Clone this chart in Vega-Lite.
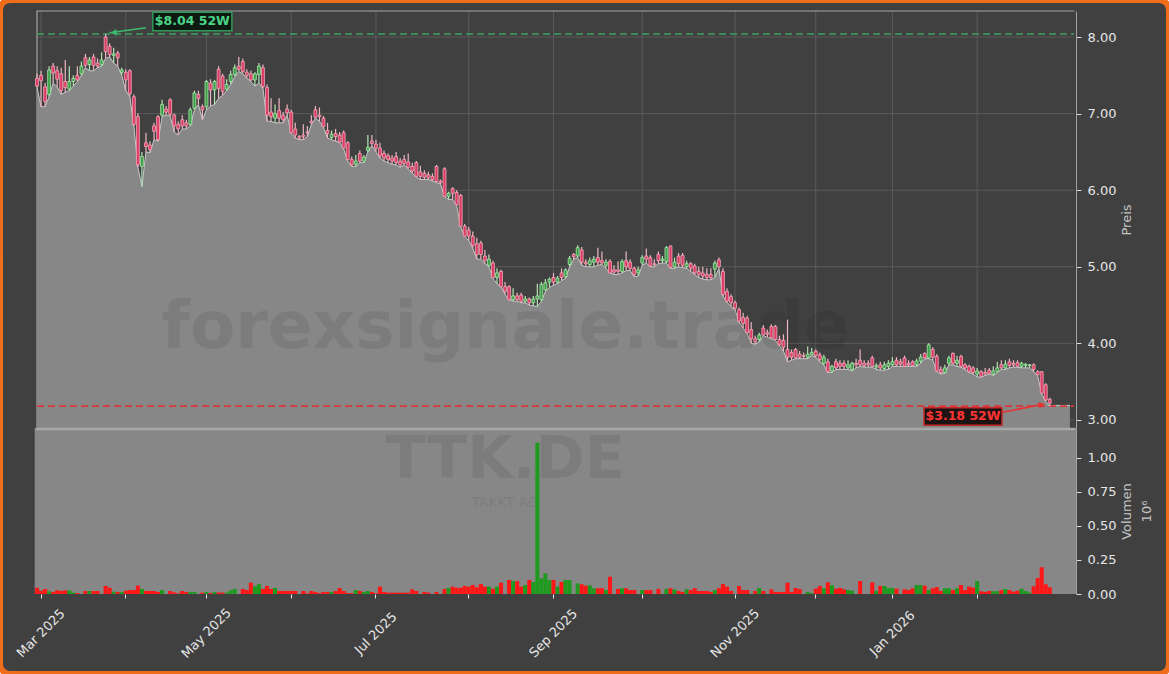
{
"$schema": "https://vega.github.io/schema/vega-lite/v6.json",
"usermeta": {"embedOptions": {"actions": false}},
"width": 1169,
"height": 674,
"autosize": {"type": "none"},
"padding": 0,
"background": "#ffffff",
"view": {"fill": "#404040", "stroke": "#ef6c1a", "strokeWidth": 6, "cornerRadius": 10},
"config": {
  "font": "DejaVu Sans",
  "axis": {"labelFont": "DejaVu Sans", "titleFont": "DejaVu Sans", "labelFontSize": 13, "labelColor": "#e6e6e6", "titleFontSize": 13, "titleColor": "#c4c4c4", "titleFontWeight": "normal", "tickColor": "#dddddd", "domainColor": "#a0a0a0", "grid": false}
},
"datasets": {
"px": [
{"d":"2025-02-28","o":7.46,"h":7.52,"l":7.34,"c":7.36,"v":46000},
{"d":"2025-03-03","o":7.50,"h":7.56,"l":7.09,"c":7.43,"v":24000},
{"d":"2025-03-04","o":7.35,"h":7.40,"l":7.09,"c":7.16,"v":37000},
{"d":"2025-03-05","o":7.25,"h":7.62,"l":7.22,"c":7.57,"v":20000},
{"d":"2025-03-06","o":7.62,"h":7.66,"l":7.40,"c":7.53,"v":15000},
{"d":"2025-03-07","o":7.56,"h":7.62,"l":7.35,"c":7.45,"v":27000},
{"d":"2025-03-10","o":7.52,"h":7.60,"l":7.25,"c":7.30,"v":22000},
{"d":"2025-03-11","o":7.42,"h":7.70,"l":7.28,"c":7.34,"v":27000},
{"d":"2025-03-12","o":7.32,"h":7.62,"l":7.30,"c":7.42,"v":27000},
{"d":"2025-03-13","o":7.42,"h":7.50,"l":7.36,"c":7.46,"v":10000},
{"d":"2025-03-14","o":7.50,"h":7.62,"l":7.42,"c":7.44,"v":7000},
{"d":"2025-03-17","o":7.52,"h":7.68,"l":7.50,"c":7.62,"v":0},
{"d":"2025-03-18","o":7.73,"h":7.78,"l":7.60,"c":7.63,"v":22000},
{"d":"2025-03-19","o":7.64,"h":7.74,"l":7.56,"c":7.70,"v":22000},
{"d":"2025-03-20","o":7.74,"h":7.78,"l":7.56,"c":7.63,"v":22000},
{"d":"2025-03-21","o":7.66,"h":7.72,"l":7.60,"c":7.62,"v":22000},
{"d":"2025-03-24","o":7.64,"h":7.80,"l":7.62,"c":7.70,"v":0},
{"d":"2025-03-25","o":8.00,"h":8.04,"l":7.72,"c":7.81,"v":59000},
{"d":"2025-03-26","o":7.88,"h":7.92,"l":7.74,"c":7.77,"v":46000},
{"d":"2025-03-27","o":7.76,"h":7.86,"l":7.66,"c":7.78,"v":17000},
{"d":"2025-03-28","o":7.79,"h":7.82,"l":7.62,"c":7.73,"v":15000},
{"d":"2025-03-31","o":7.54,"h":7.60,"l":7.50,"c":7.57,"v":15000},
{"d":"2025-04-01","o":7.54,"h":7.58,"l":7.30,"c":7.44,"v":24000},
{"d":"2025-04-02","o":7.56,"h":7.58,"l":7.22,"c":7.26,"v":29000},
{"d":"2025-04-03","o":7.22,"h":7.25,"l":6.84,"c":6.86,"v":29000},
{"d":"2025-04-04","o":6.96,"h":7.00,"l":6.30,"c":6.33,"v":61000},
{"d":"2025-04-07","o":6.31,"h":6.50,"l":6.05,"c":6.44,"v":37000},
{"d":"2025-04-08","o":6.62,"h":6.75,"l":6.50,"c":6.57,"v":22000},
{"d":"2025-04-09","o":6.59,"h":6.64,"l":6.49,"c":6.53,"v":22000},
{"d":"2025-04-10","o":6.84,"h":6.88,"l":6.66,"c":6.77,"v":22000},
{"d":"2025-04-11","o":6.96,"h":6.98,"l":6.64,"c":6.66,"v":15000},
{"d":"2025-04-14","o":6.98,"h":7.18,"l":6.96,"c":7.12,"v":29000},
{"d":"2025-04-15","o":7.06,"h":7.10,"l":6.98,"c":7.02,"v":0},
{"d":"2025-04-16","o":7.18,"h":7.20,"l":6.97,"c":6.99,"v":22000},
{"d":"2025-04-17","o":6.98,"h":7.00,"l":6.76,"c":6.84,"v":12000},
{"d":"2025-04-22","o":6.86,"h":6.90,"l":6.72,"c":6.80,"v":5000},
{"d":"2025-04-23","o":6.92,"h":6.98,"l":6.80,"c":6.84,"v":22000},
{"d":"2025-04-24","o":6.88,"h":6.92,"l":6.80,"c":6.84,"v":15000},
{"d":"2025-04-25","o":6.86,"h":7.08,"l":6.84,"c":7.05,"v":15000},
{"d":"2025-04-28","o":7.07,"h":7.30,"l":7.05,"c":7.27,"v":15000},
{"d":"2025-04-29","o":7.25,"h":7.30,"l":7.12,"c":7.20,"v":0},
{"d":"2025-04-30","o":7.09,"h":7.12,"l":6.92,"c":7.05,"v":10000},
{"d":"2025-05-02","o":7.09,"h":7.44,"l":7.05,"c":7.42,"v":15000},
{"d":"2025-05-05","o":7.40,"h":7.45,"l":7.10,"c":7.31,"v":7000},
{"d":"2025-05-06","o":7.31,"h":7.44,"l":7.12,"c":7.42,"v":15000},
{"d":"2025-05-07","o":7.58,"h":7.62,"l":7.20,"c":7.33,"v":12000},
{"d":"2025-05-08","o":7.49,"h":7.52,"l":7.24,"c":7.29,"v":10000},
{"d":"2025-05-09","o":7.32,"h":7.45,"l":7.30,"c":7.38,"v":10000},
{"d":"2025-05-12","o":7.42,"h":7.56,"l":7.38,"c":7.51,"v":27000},
{"d":"2025-05-13","o":7.51,"h":7.64,"l":7.48,"c":7.60,"v":37000},
{"d":"2025-05-14","o":7.62,"h":7.74,"l":7.55,"c":7.58,"v":0},
{"d":"2025-05-15","o":7.68,"h":7.72,"l":7.52,"c":7.55,"v":37000},
{"d":"2025-05-16","o":7.54,"h":7.58,"l":7.46,"c":7.50,"v":29000},
{"d":"2025-05-19","o":7.52,"h":7.56,"l":7.42,"c":7.44,"v":83000},
{"d":"2025-05-20","o":7.44,"h":7.54,"l":7.36,"c":7.52,"v":56000},
{"d":"2025-05-21","o":7.51,"h":7.66,"l":7.40,"c":7.62,"v":73000},
{"d":"2025-05-22","o":7.60,"h":7.64,"l":7.33,"c":7.35,"v":37000},
{"d":"2025-05-23","o":7.34,"h":7.38,"l":6.90,"c":6.98,"v":59000},
{"d":"2025-05-26","o":7.02,"h":7.20,"l":6.90,"c":6.96,"v":37000},
{"d":"2025-05-27","o":6.94,"h":7.12,"l":6.88,"c":7.00,"v":44000},
{"d":"2025-05-28","o":7.04,"h":7.20,"l":6.88,"c":6.94,"v":22000},
{"d":"2025-05-29","o":6.98,"h":7.02,"l":6.88,"c":6.92,"v":22000},
{"d":"2025-05-30","o":7.06,"h":7.12,"l":6.98,"c":7.01,"v":22000},
{"d":"2025-06-02","o":7.02,"h":7.05,"l":6.74,"c":6.75,"v":22000},
{"d":"2025-06-03","o":6.80,"h":6.88,"l":6.68,"c":6.72,"v":22000},
{"d":"2025-06-04","o":6.70,"h":6.72,"l":6.66,"c":6.68,"v":0},
{"d":"2025-06-05","o":6.72,"h":6.86,"l":6.66,"c":6.70,"v":22000},
{"d":"2025-06-06","o":6.76,"h":6.84,"l":6.70,"c":6.75,"v":5000},
{"d":"2025-06-09","o":6.90,"h":6.98,"l":6.86,"c":6.88,"v":22000},
{"d":"2025-06-10","o":7.05,"h":7.10,"l":6.94,"c":6.95,"v":15000},
{"d":"2025-06-11","o":6.98,"h":7.08,"l":6.90,"c":6.96,"v":7000},
{"d":"2025-06-12","o":6.94,"h":6.97,"l":6.82,"c":6.83,"v":15000},
{"d":"2025-06-13","o":6.78,"h":6.88,"l":6.68,"c":6.74,"v":15000},
{"d":"2025-06-16","o":6.69,"h":6.78,"l":6.66,"c":6.73,"v":15000},
{"d":"2025-06-17","o":6.74,"h":6.80,"l":6.64,"c":6.70,"v":22000},
{"d":"2025-06-18","o":6.72,"h":6.76,"l":6.62,"c":6.63,"v":44000},
{"d":"2025-06-19","o":6.75,"h":6.78,"l":6.54,"c":6.55,"v":22000},
{"d":"2025-06-20","o":6.62,"h":6.64,"l":6.38,"c":6.40,"v":7000},
{"d":"2025-06-23","o":6.40,"h":6.44,"l":6.31,"c":6.33,"v":7000},
{"d":"2025-06-24","o":6.34,"h":6.46,"l":6.31,"c":6.38,"v":29000},
{"d":"2025-06-25","o":6.48,"h":6.52,"l":6.36,"c":6.38,"v":22000},
{"d":"2025-06-26","o":6.38,"h":6.46,"l":6.36,"c":6.43,"v":15000},
{"d":"2025-06-27","o":6.52,"h":6.72,"l":6.50,"c":6.56,"v":22000},
{"d":"2025-06-30","o":6.64,"h":6.72,"l":6.58,"c":6.61,"v":15000},
{"d":"2025-07-01","o":6.60,"h":6.66,"l":6.50,"c":6.55,"v":5000},
{"d":"2025-07-02","o":6.55,"h":6.62,"l":6.42,"c":6.45,"v":54000},
{"d":"2025-07-03","o":6.48,"h":6.52,"l":6.38,"c":6.42,"v":15000},
{"d":"2025-07-04","o":6.45,"h":6.48,"l":6.36,"c":6.40,"v":10000},
{"d":"2025-07-07","o":6.42,"h":6.46,"l":6.34,"c":6.38,"v":10000},
{"d":"2025-07-08","o":6.44,"h":6.50,"l":6.33,"c":6.36,"v":10000},
{"d":"2025-07-09","o":6.38,"h":6.42,"l":6.30,"c":6.33,"v":10000},
{"d":"2025-07-10","o":6.40,"h":6.46,"l":6.33,"c":6.35,"v":10000},
{"d":"2025-07-11","o":6.37,"h":6.48,"l":6.28,"c":6.30,"v":10000},
{"d":"2025-07-14","o":6.31,"h":6.36,"l":6.22,"c":6.25,"v":34000},
{"d":"2025-07-15","o":6.36,"h":6.38,"l":6.17,"c":6.18,"v":22000},
{"d":"2025-07-16","o":6.24,"h":6.32,"l":6.14,"c":6.18,"v":0},
{"d":"2025-07-17","o":6.22,"h":6.26,"l":6.14,"c":6.17,"v":15000},
{"d":"2025-07-18","o":6.20,"h":6.24,"l":6.14,"c":6.16,"v":10000},
{"d":"2025-07-21","o":6.18,"h":6.22,"l":6.12,"c":6.14,"v":0},
{"d":"2025-07-22","o":6.31,"h":6.33,"l":6.10,"c":6.11,"v":15000},
{"d":"2025-07-23","o":6.12,"h":6.14,"l":6.08,"c":6.10,"v":0},
{"d":"2025-07-24","o":6.28,"h":6.30,"l":5.92,"c":5.92,"v":37000},
{"d":"2025-07-25","o":5.92,"h":5.98,"l":5.88,"c":5.96,"v":44000},
{"d":"2025-07-28","o":6.02,"h":6.04,"l":5.88,"c":5.96,"v":54000},
{"d":"2025-07-29","o":5.97,"h":6.00,"l":5.80,"c":5.81,"v":46000},
{"d":"2025-07-30","o":5.93,"h":5.95,"l":5.52,"c":5.53,"v":46000},
{"d":"2025-07-31","o":5.53,"h":5.56,"l":5.40,"c":5.40,"v":59000},
{"d":"2025-08-01","o":5.48,"h":5.52,"l":5.34,"c":5.40,"v":54000},
{"d":"2025-08-04","o":5.40,"h":5.46,"l":5.24,"c":5.28,"v":66000},
{"d":"2025-08-05","o":5.30,"h":5.38,"l":5.10,"c":5.16,"v":49000},
{"d":"2025-08-06","o":5.31,"h":5.34,"l":5.10,"c":5.16,"v":73000},
{"d":"2025-08-07","o":5.14,"h":5.22,"l":5.04,"c":5.08,"v":54000},
{"d":"2025-08-08","o":5.02,"h":5.16,"l":5.00,"c":5.10,"v":54000},
{"d":"2025-08-11","o":5.05,"h":5.08,"l":4.85,"c":4.86,"v":39000},
{"d":"2025-08-12","o":4.86,"h":4.98,"l":4.78,"c":4.92,"v":54000},
{"d":"2025-08-13","o":4.94,"h":4.96,"l":4.74,"c":4.74,"v":83000},
{"d":"2025-08-14","o":4.74,"h":4.80,"l":4.64,"c":4.68,"v":0},
{"d":"2025-08-15","o":4.74,"h":4.76,"l":4.57,"c":4.57,"v":103000},
{"d":"2025-08-18","o":4.57,"h":4.72,"l":4.55,"c":4.62,"v":95000},
{"d":"2025-08-19","o":4.62,"h":4.66,"l":4.55,"c":4.57,"v":95000},
{"d":"2025-08-20","o":4.63,"h":4.66,"l":4.53,"c":4.55,"v":54000},
{"d":"2025-08-21","o":4.55,"h":4.62,"l":4.53,"c":4.58,"v":66000},
{"d":"2025-08-22","o":4.58,"h":4.60,"l":4.50,"c":4.53,"v":103000},
{"d":"2025-08-25","o":4.53,"h":4.62,"l":4.49,"c":4.58,"v":88000},
{"d":"2025-08-26","o":4.58,"h":4.78,"l":4.48,"c":4.62,"v":1110000},
{"d":"2025-08-27","o":4.57,"h":4.80,"l":4.55,"c":4.77,"v":115000},
{"d":"2025-08-28","o":4.70,"h":4.84,"l":4.68,"c":4.79,"v":152000},
{"d":"2025-08-29","o":4.80,"h":4.86,"l":4.73,"c":4.84,"v":103000},
{"d":"2025-09-01","o":4.86,"h":4.92,"l":4.76,"c":4.80,"v":103000},
{"d":"2025-09-02","o":4.80,"h":4.88,"l":4.78,"c":4.85,"v":54000},
{"d":"2025-09-03","o":4.92,"h":4.98,"l":4.82,"c":4.86,"v":88000},
{"d":"2025-09-04","o":4.87,"h":4.98,"l":4.85,"c":4.96,"v":103000},
{"d":"2025-09-05","o":5.03,"h":5.14,"l":5.00,"c":5.11,"v":103000},
{"d":"2025-09-08","o":5.16,"h":5.18,"l":5.10,"c":5.13,"v":0},
{"d":"2025-09-09","o":5.14,"h":5.28,"l":5.12,"c":5.25,"v":78000},
{"d":"2025-09-10","o":5.22,"h":5.26,"l":5.02,"c":5.06,"v":71000},
{"d":"2025-09-11","o":5.06,"h":5.10,"l":5.00,"c":5.04,"v":61000},
{"d":"2025-09-12","o":5.03,"h":5.12,"l":5.00,"c":5.08,"v":64000},
{"d":"2025-09-15","o":5.06,"h":5.14,"l":5.00,"c":5.10,"v":42000},
{"d":"2025-09-16","o":5.12,"h":5.25,"l":5.02,"c":5.06,"v":42000},
{"d":"2025-09-17","o":5.08,"h":5.20,"l":5.03,"c":5.05,"v":42000},
{"d":"2025-09-18","o":5.02,"h":5.10,"l":4.98,"c":5.06,"v":29000},
{"d":"2025-09-19","o":5.07,"h":5.10,"l":4.92,"c":4.92,"v":127000},
{"d":"2025-09-22","o":4.96,"h":5.02,"l":4.90,"c":4.93,"v":0},
{"d":"2025-09-23","o":4.96,"h":5.07,"l":4.90,"c":4.94,"v":37000},
{"d":"2025-09-24","o":4.94,"h":5.10,"l":4.92,"c":5.07,"v":42000},
{"d":"2025-09-25","o":5.08,"h":5.20,"l":4.95,"c":5.00,"v":42000},
{"d":"2025-09-26","o":5.06,"h":5.10,"l":4.95,"c":4.98,"v":29000},
{"d":"2025-09-29","o":4.98,"h":5.00,"l":4.87,"c":4.90,"v":29000},
{"d":"2025-09-30","o":4.92,"h":5.00,"l":4.88,"c":4.96,"v":0},
{"d":"2025-10-01","o":5.05,"h":5.15,"l":5.02,"c":5.12,"v":29000},
{"d":"2025-10-02","o":5.14,"h":5.24,"l":5.05,"c":5.10,"v":29000},
{"d":"2025-10-03","o":5.12,"h":5.15,"l":5.00,"c":5.01,"v":29000},
{"d":"2025-10-06","o":5.04,"h":5.10,"l":5.00,"c":5.03,"v":0},
{"d":"2025-10-07","o":5.16,"h":5.20,"l":5.04,"c":5.08,"v":37000},
{"d":"2025-10-08","o":5.08,"h":5.14,"l":5.05,"c":5.10,"v":0},
{"d":"2025-10-09","o":5.07,"h":5.27,"l":5.05,"c":5.25,"v":37000},
{"d":"2025-10-10","o":5.27,"h":5.28,"l":4.98,"c":4.99,"v":42000},
{"d":"2025-10-13","o":5.00,"h":5.12,"l":4.98,"c":5.06,"v":34000},
{"d":"2025-10-14","o":5.14,"h":5.18,"l":5.00,"c":5.04,"v":22000},
{"d":"2025-10-15","o":5.15,"h":5.18,"l":4.99,"c":5.02,"v":15000},
{"d":"2025-10-16","o":5.00,"h":5.08,"l":4.98,"c":5.04,"v":34000},
{"d":"2025-10-17","o":5.04,"h":5.06,"l":4.94,"c":4.98,"v":29000},
{"d":"2025-10-20","o":5.01,"h":5.04,"l":4.90,"c":4.92,"v":42000},
{"d":"2025-10-21","o":4.94,"h":5.00,"l":4.86,"c":4.90,"v":22000},
{"d":"2025-10-22","o":4.92,"h":5.00,"l":4.84,"c":4.88,"v":22000},
{"d":"2025-10-23","o":4.90,"h":4.98,"l":4.83,"c":4.86,"v":22000},
{"d":"2025-10-24","o":4.90,"h":4.98,"l":4.83,"c":4.86,"v":15000},
{"d":"2025-10-27","o":4.97,"h":5.08,"l":4.86,"c":5.05,"v":29000},
{"d":"2025-10-28","o":5.09,"h":5.12,"l":4.98,"c":5.00,"v":42000},
{"d":"2025-10-29","o":4.94,"h":4.98,"l":4.62,"c":4.64,"v":73000},
{"d":"2025-10-30","o":4.68,"h":4.72,"l":4.54,"c":4.55,"v":54000},
{"d":"2025-10-31","o":4.61,"h":4.64,"l":4.48,"c":4.53,"v":22000},
{"d":"2025-11-03","o":4.53,"h":4.56,"l":4.44,"c":4.46,"v":0},
{"d":"2025-11-04","o":4.44,"h":4.47,"l":4.28,"c":4.29,"v":59000},
{"d":"2025-11-05","o":4.34,"h":4.40,"l":4.20,"c":4.26,"v":29000},
{"d":"2025-11-06","o":4.33,"h":4.36,"l":4.13,"c":4.14,"v":29000},
{"d":"2025-11-07","o":4.18,"h":4.28,"l":4.00,"c":4.06,"v":0},
{"d":"2025-11-10","o":4.06,"h":4.10,"l":3.99,"c":4.02,"v":22000},
{"d":"2025-11-11","o":4.05,"h":4.14,"l":4.02,"c":4.11,"v":44000},
{"d":"2025-11-12","o":4.20,"h":4.24,"l":4.10,"c":4.11,"v":22000},
{"d":"2025-11-13","o":4.14,"h":4.18,"l":4.08,"c":4.12,"v":0},
{"d":"2025-11-14","o":4.22,"h":4.25,"l":4.06,"c":4.07,"v":34000},
{"d":"2025-11-17","o":4.22,"h":4.24,"l":4.04,"c":4.05,"v":15000},
{"d":"2025-11-18","o":4.05,"h":4.10,"l":3.97,"c":3.98,"v":15000},
{"d":"2025-11-19","o":4.04,"h":4.12,"l":3.90,"c":3.95,"v":15000},
{"d":"2025-11-20","o":3.92,"h":4.31,"l":3.76,"c":3.82,"v":83000},
{"d":"2025-11-21","o":3.88,"h":3.92,"l":3.78,"c":3.82,"v":15000},
{"d":"2025-11-24","o":3.92,"h":3.94,"l":3.80,"c":3.81,"v":44000},
{"d":"2025-11-25","o":3.86,"h":3.90,"l":3.80,"c":3.82,"v":37000},
{"d":"2025-11-26","o":3.84,"h":3.88,"l":3.80,"c":3.83,"v":0},
{"d":"2025-11-27","o":3.82,"h":3.96,"l":3.80,"c":3.86,"v":15000},
{"d":"2025-11-28","o":3.85,"h":3.94,"l":3.84,"c":3.88,"v":7000},
{"d":"2025-12-01","o":3.90,"h":3.92,"l":3.82,"c":3.84,"v":39000},
{"d":"2025-12-02","o":3.85,"h":3.88,"l":3.76,"c":3.79,"v":59000},
{"d":"2025-12-03","o":3.74,"h":3.85,"l":3.72,"c":3.82,"v":42000},
{"d":"2025-12-04","o":3.76,"h":3.80,"l":3.62,"c":3.63,"v":86000},
{"d":"2025-12-05","o":3.64,"h":3.72,"l":3.62,"c":3.70,"v":64000},
{"d":"2025-12-08","o":3.76,"h":3.80,"l":3.66,"c":3.68,"v":39000},
{"d":"2025-12-09","o":3.74,"h":3.78,"l":3.66,"c":3.70,"v":44000},
{"d":"2025-12-10","o":3.74,"h":3.78,"l":3.66,"c":3.70,"v":34000},
{"d":"2025-12-11","o":3.68,"h":3.78,"l":3.66,"c":3.72,"v":29000},
{"d":"2025-12-12","o":3.66,"h":3.76,"l":3.64,"c":3.74,"v":24000},
{"d":"2025-12-15","o":3.74,"h":3.80,"l":3.68,"c":3.72,"v":0},
{"d":"2025-12-16","o":3.78,"h":3.92,"l":3.70,"c":3.72,"v":95000},
{"d":"2025-12-17","o":3.74,"h":3.78,"l":3.69,"c":3.71,"v":0},
{"d":"2025-12-18","o":3.74,"h":3.78,"l":3.69,"c":3.72,"v":0},
{"d":"2025-12-19","o":3.81,"h":3.84,"l":3.69,"c":3.70,"v":86000},
{"d":"2025-12-22","o":3.69,"h":3.74,"l":3.66,"c":3.71,"v":22000},
{"d":"2025-12-23","o":3.72,"h":3.76,"l":3.65,"c":3.68,"v":59000},
{"d":"2025-12-29","o":3.67,"h":3.76,"l":3.65,"c":3.72,"v":59000},
{"d":"2025-12-30","o":3.70,"h":3.78,"l":3.66,"c":3.74,"v":44000},
{"d":"2026-01-02","o":3.72,"h":3.82,"l":3.70,"c":3.76,"v":44000},
{"d":"2026-01-05","o":3.78,"h":3.82,"l":3.70,"c":3.72,"v":39000},
{"d":"2026-01-06","o":3.76,"h":3.80,"l":3.70,"c":3.73,"v":0},
{"d":"2026-01-07","o":3.81,"h":3.84,"l":3.70,"c":3.70,"v":34000},
{"d":"2026-01-08","o":3.74,"h":3.78,"l":3.70,"c":3.72,"v":29000},
{"d":"2026-01-09","o":3.76,"h":3.78,"l":3.70,"c":3.71,"v":42000},
{"d":"2026-01-12","o":3.72,"h":3.80,"l":3.70,"c":3.77,"v":66000},
{"d":"2026-01-13","o":3.77,"h":3.86,"l":3.74,"c":3.82,"v":66000},
{"d":"2026-01-14","o":3.87,"h":3.88,"l":3.80,"c":3.81,"v":61000},
{"d":"2026-01-15","o":3.81,"h":4.00,"l":3.80,"c":3.98,"v":29000},
{"d":"2026-01-16","o":3.92,"h":3.95,"l":3.78,"c":3.82,"v":42000},
{"d":"2026-01-19","o":3.83,"h":3.86,"l":3.63,"c":3.64,"v":51000},
{"d":"2026-01-20","o":3.66,"h":3.70,"l":3.60,"c":3.62,"v":22000},
{"d":"2026-01-21","o":3.62,"h":3.72,"l":3.61,"c":3.68,"v":42000},
{"d":"2026-01-22","o":3.74,"h":3.84,"l":3.72,"c":3.81,"v":42000},
{"d":"2026-01-23","o":3.87,"h":3.88,"l":3.72,"c":3.74,"v":29000},
{"d":"2026-01-26","o":3.74,"h":3.84,"l":3.70,"c":3.78,"v":42000},
{"d":"2026-01-27","o":3.83,"h":3.85,"l":3.69,"c":3.70,"v":66000},
{"d":"2026-01-28","o":3.72,"h":3.74,"l":3.66,"c":3.68,"v":29000},
{"d":"2026-01-29","o":3.70,"h":3.72,"l":3.62,"c":3.63,"v":54000},
{"d":"2026-01-30","o":3.68,"h":3.70,"l":3.60,"c":3.62,"v":46000},
{"d":"2026-02-02","o":3.60,"h":3.68,"l":3.56,"c":3.64,"v":95000},
{"d":"2026-02-03","o":3.63,"h":3.65,"l":3.56,"c":3.57,"v":20000},
{"d":"2026-02-04","o":3.62,"h":3.68,"l":3.58,"c":3.60,"v":15000},
{"d":"2026-02-05","o":3.65,"h":3.68,"l":3.60,"c":3.61,"v":22000},
{"d":"2026-02-06","o":3.60,"h":3.70,"l":3.58,"c":3.64,"v":20000},
{"d":"2026-02-09","o":3.63,"h":3.76,"l":3.62,"c":3.68,"v":20000},
{"d":"2026-02-10","o":3.72,"h":3.78,"l":3.66,"c":3.68,"v":29000},
{"d":"2026-02-11","o":3.68,"h":3.78,"l":3.66,"c":3.73,"v":37000},
{"d":"2026-02-12","o":3.76,"h":3.80,"l":3.68,"c":3.71,"v":29000},
{"d":"2026-02-13","o":3.74,"h":3.78,"l":3.69,"c":3.72,"v":17000},
{"d":"2026-02-16","o":3.75,"h":3.78,"l":3.69,"c":3.70,"v":24000},
{"d":"2026-02-17","o":3.70,"h":3.76,"l":3.68,"c":3.74,"v":39000},
{"d":"2026-02-18","o":3.71,"h":3.74,"l":3.68,"c":3.73,"v":22000},
{"d":"2026-02-19","o":3.71,"h":3.73,"l":3.68,"c":3.72,"v":10000},
{"d":"2026-02-20","o":3.72,"h":3.74,"l":3.63,"c":3.66,"v":56000},
{"d":"2026-02-23","o":3.63,"h":3.65,"l":3.58,"c":3.59,"v":117000},
{"d":"2026-02-24","o":3.63,"h":3.64,"l":3.34,"c":3.35,"v":196000},
{"d":"2026-02-25","o":3.46,"h":3.48,"l":3.24,"c":3.26,"v":71000},
{"d":"2026-02-26","o":3.27,"h":3.29,"l":3.18,"c":3.22,"v":49000},
{"d":"2026-02-27","l":3.19},
{"d":"2026-03-02","l":3.19},
{"d":"2026-03-03","l":3.19},
{"d":"2026-03-04","l":3.19},
{"d":"2026-03-05","l":3.19},
{"d":"2026-03-06"}
]
},
"data": {"name": "px"},
"resolve": {"scale": {"y": "independent"}},
"layer": [
{
"layer": [
  {
    "data": {"values": [{"d":"2025-03-03"},{"d":"2025-04-01"},{"d":"2025-05-02"},{"d":"2025-06-02"},{"d":"2025-07-01"},{"d":"2025-08-01"},{"d":"2025-09-01"},{"d":"2025-10-01"},{"d":"2025-11-03"},{"d":"2025-12-01"},{"d":"2026-01-02"},{"d":"2026-02-02"}]},
    "mark": {"type": "rule", "color": "#5e5e5e", "strokeWidth": 0.9},
    "encoding": {
      "x": {"field": "d", "type": "ordinal"},
      "y": {"datum": 8.34, "type": "quantitative"},
      "y2": {"datum": 2.895}
    }
  },
  {
    "data": {"values": [{"lv": 3}, {"lv": 4}, {"lv": 5}, {"lv": 6}, {"lv": 7}, {"lv": 8}]},
    "mark": {"type": "rule", "color": "#5e5e5e", "strokeWidth": 0.9},
    "encoding": {
      "y": {"field": "lv", "type": "quantitative"},
      "x": {"datum": "2025-02-28", "type": "ordinal"},
      "x2": {"datum": "2026-03-06"}
    }
  },
  {
    "data": {"values": [{"k": 1}]},
    "mark": {"type": "rule", "color": "#a3a3a3", "strokeWidth": 1.2, "strokeCap": "square"},
    "encoding": {
      "y": {"datum": 8.34, "type": "quantitative"},
      "x": {"datum": "2025-02-28", "type": "ordinal"},
      "x2": {"datum": "2026-03-06"}
    }
  },
  {
    "data": {"values": [{"k": 1}]},
    "mark": {"type": "rule", "color": "#a3a3a3", "strokeWidth": 1.2},
    "encoding": {
      "x": {"datum": "2025-02-28", "type": "ordinal"},
      "y": {"datum": 8.34, "type": "quantitative"},
      "y2": {"datum": 2.895}
    }
  },
  {
    "transform": [{"filter": "isValid(datum.l)"}],
    "mark": {"type": "area", "color": "#878787", "opacity": 1, "line": {"color": "#c9c9c9", "strokeWidth": 1}},
    "encoding": {
      "x": {"field": "d", "type": "ordinal", "scale": {"range": [35, 1076], "paddingInner": 0, "paddingOuter": 0}},
      "y": {"field": "l", "type": "quantitative", "scale": {"domain": [2.895, 8.34], "range": [428, 11], "nice": false, "zero": false},
            "axis": {"orient": "right", "offset": -93, "values": [3, 4, 5, 6, 7, 8], "format": ".2f", "title": "Preis", "tickSize": 5, "labelPadding": 6, "titleAngle": 270, "titleBaseline": "top", "titlePadding": 5, "domainColor": "#a3a3a3", "grid": false, "zindex": 2}},
      "y2": {"datum": 2.895}
    }
  },
  {
    "data": {"values": [{"t": "forexsignale.trade"}]},
    "mark": {"type": "text", "fontSize": 66, "fontWeight": "bold", "font": "DejaVu Sans", "color": "#000000", "opacity": 0.07, "align": "center", "baseline": "alphabetic"},
    "encoding": {
      "x": {"datum": "2025-08-14", "type": "ordinal"},
      "y": {"datum": 3.94, "type": "quantitative"},
      "text": {"field": "t"}
    }
  },
  {
    "data": {"values": [{"lvl": 8.04}]},
    "mark": {"type": "rule", "color": "#3aa35f", "strokeWidth": 1.6, "strokeDash": [7, 4]},
    "encoding": {
      "y": {"field": "lvl", "type": "quantitative"},
      "x": {"datum": "2025-02-28", "type": "ordinal"},
      "x2": {"datum": "2026-03-06"}
    }
  },
  {
    "data": {"values": [{"lvl": 3.18}]},
    "mark": {"type": "rule", "color": "#d8383c", "strokeWidth": 1.6, "strokeDash": [7, 4]},
    "encoding": {
      "y": {"field": "lvl", "type": "quantitative"},
      "x": {"datum": "2025-02-28", "type": "ordinal"},
      "x2": {"datum": "2026-03-06"}
    }
  },
  {
    "transform": [{"filter": "isValid(datum.o)"}],
    "mark": {"type": "rule", "strokeWidth": 1.2},
    "encoding": {
      "x": {"field": "d", "type": "ordinal"},
      "y": {"field": "l", "type": "quantitative"},
      "y2": {"field": "h"},
      "color": {"condition": {"test": "datum.c >= datum.o", "value": "#b4e4b4"}, "value": "#eeb6c2"}
    }
  },
  {
    "transform": [{"filter": "isValid(datum.o)"}],
    "mark": {"type": "bar", "width": {"band": 0.72}, "strokeWidth": 0.8},
    "encoding": {
      "x": {"field": "d", "type": "ordinal"},
      "y": {"field": "o", "type": "quantitative"},
      "y2": {"field": "c"},
      "fill": {"condition": {"test": "datum.c >= datum.o", "value": "#3f9e4a"}, "value": "#dc3c64"},
      "stroke": {"condition": {"test": "datum.c >= datum.o", "value": "#ace8ac"}, "value": "#f4a9bb"}
    }
  },
  {
    "data": {"values": [{"k": 1}]},
    "mark": {"type": "rule", "color": "#3dbb6c", "strokeWidth": 1.6},
    "encoding": {
      "x": {"datum": "2025-04-08", "type": "ordinal"},
      "x2": {"datum": "2025-03-26"},
      "y": {"datum": 8.122, "type": "quantitative"},
      "y2": {"datum": 8.057}
    }
  },
  {
    "data": {"values": [{"k": 1}]},
    "mark": {"type": "point", "shape": "triangle-left", "filled": true, "size": 45, "angle": -8, "color": "#3dbb6c", "opacity": 1},
    "encoding": {
      "x": {"datum": "2025-03-27", "type": "ordinal"},
      "y": {"datum": 8.057, "type": "quantitative"}
    }
  },
  {
    "data": {"values": [{"k": 1}]},
    "mark": {"type": "rule", "color": "#2f9a58", "strokeWidth": 20, "strokeCap": "square"},
    "encoding": {
      "x": {"datum": "2025-04-14", "type": "ordinal"},
      "x2": {"datum": "2025-05-08"},
      "y": {"datum": 8.203, "type": "quantitative"}
    }
  },
  {
    "data": {"values": [{"k": 1}]},
    "mark": {"type": "rule", "color": "#0d1a11", "strokeWidth": 17, "strokeCap": "square"},
    "encoding": {
      "x": {"datum": "2025-04-14", "type": "ordinal"},
      "x2": {"datum": "2025-05-08"},
      "y": {"datum": 8.203, "type": "quantitative"}
    }
  },
  {
    "data": {"values": [{"lab": "$8.04 52W"}]},
    "mark": {"type": "text", "fontSize": 12.5, "fontWeight": "bold", "font": "DejaVu Sans", "color": "#4cd486", "align": "center", "baseline": "middle", "dx": 2},
    "encoding": {
      "x": {"datum": "2025-04-25", "type": "ordinal"},
      "y": {"datum": 8.203, "type": "quantitative"},
      "text": {"field": "lab"}
    }
  },
  {
    "data": {"values": [{"k": 1}]},
    "mark": {"type": "rule", "color": "#e83232", "strokeWidth": 1.6},
    "encoding": {
      "x": {"datum": "2026-02-10", "type": "ordinal"},
      "x2": {"datum": "2026-02-24"},
      "y": {"datum": 3.097, "type": "quantitative"},
      "y2": {"datum": 3.202}
    }
  },
  {
    "data": {"values": [{"k": 1}]},
    "mark": {"type": "point", "shape": "triangle-right", "filled": true, "size": 45, "angle": -11, "color": "#e83232", "opacity": 1},
    "encoding": {
      "x": {"datum": "2026-02-24", "type": "ordinal"},
      "y": {"datum": 3.20, "type": "quantitative"}
    }
  },
  {
    "data": {"values": [{"k": 1}]},
    "mark": {"type": "rule", "color": "#c42a2a", "strokeWidth": 19, "strokeCap": "square"},
    "encoding": {
      "x": {"datum": "2026-01-16", "type": "ordinal"},
      "x2": {"datum": "2026-02-06"},
      "y": {"datum": 3.046, "type": "quantitative"}
    }
  },
  {
    "data": {"values": [{"k": 1}]},
    "mark": {"type": "rule", "color": "#1e1313", "strokeWidth": 16, "strokeCap": "square"},
    "encoding": {
      "x": {"datum": "2026-01-16", "type": "ordinal"},
      "x2": {"datum": "2026-02-06"},
      "y": {"datum": 3.046, "type": "quantitative"}
    }
  },
  {
    "data": {"values": [{"lab": "$3.18 52W"}]},
    "mark": {"type": "text", "fontSize": 12.5, "fontWeight": "bold", "font": "DejaVu Sans", "color": "#ff3535", "align": "center", "baseline": "middle", "dx": -2},
    "encoding": {
      "x": {"datum": "2026-01-28", "type": "ordinal"},
      "y": {"datum": 3.046, "type": "quantitative"},
      "text": {"field": "lab"}
    }
  }
]
},
{
"layer": [
  {
    "mark": {"type": "bar", "color": "#878787", "width": {"band": 1.15}},
    "encoding": {
      "x": {"field": "d", "type": "ordinal"},
      "y": {"datum": 1218000, "type": "quantitative"},
      "y2": {"datum": 0}
    }
  },
  {
    "mark": {"type": "area", "color": "#878787", "opacity": 1},
    "encoding": {
      "x": {"field": "d", "type": "ordinal"},
      "y": {"datum": 1218000, "type": "quantitative"},
      "y2": {"datum": 0}
    }
  },
  {
    "data": {"values": [{"k": 1}]},
    "mark": {"type": "rule", "color": "#a8a8a8", "strokeWidth": 2.5, "strokeCap": "square"},
    "encoding": {
      "x": {"datum": "2025-02-28", "type": "ordinal"},
      "x2": {"datum": "2026-03-06"},
      "y": {"datum": 1211000, "type": "quantitative"}
    }
  },
  {
    "data": {"values": [{"t": "TTK.DE"}]},
    "mark": {"type": "text", "fontSize": 59, "fontWeight": "bold", "font": "DejaVu Sans", "color": "#000000", "opacity": 0.07, "align": "center", "baseline": "alphabetic"},
    "encoding": {
      "x": {"datum": "2025-08-14", "type": "ordinal"},
      "y": {"datum": 853000, "type": "quantitative"},
      "text": {"field": "t"}
    }
  },
  {
    "data": {"values": [{"t": "TAKKT AG"}]},
    "mark": {"type": "text", "fontSize": 14, "font": "DejaVu Sans", "color": "#000000", "opacity": 0.07, "align": "center", "baseline": "alphabetic"},
    "encoding": {
      "x": {"datum": "2025-08-14", "type": "ordinal"},
      "y": {"datum": 640000, "type": "quantitative"},
      "text": {"field": "t"}
    }
  },
  {
    "transform": [{"filter": "datum.v > 0"}],
    "mark": {"type": "bar", "width": {"band": 1}},
    "encoding": {
      "x": {"field": "d", "type": "ordinal", "scale": {"range": [35, 1076], "paddingInner": 0, "paddingOuter": 0},
            "axis": {"orient": "bottom", "offset": -80, "values": ["2025-03-03","2025-04-01","2025-05-02","2025-06-02","2025-07-01","2025-08-01","2025-09-01","2025-10-01","2025-11-03","2025-12-01","2026-01-02","2026-02-02"],
                     "labelExpr": "utcmonth(toDate(datum.value)) % 2 == 0 ? utcFormat(toDate(datum.value), '%b %Y') : ''",
                     "labelAngle": -45, "labelAlign": "center", "labelBaseline": "middle", "labelPadding": 35, "tickSize": 4, "tickWidth": 1, "tickColor": "#e6e6e6",
                     "domain": false, "title": null, "labelOverlap": false, "labelFlush": false, "grid": false, "zindex": 2}},
      "y": {"field": "v", "type": "quantitative", "scale": {"domain": [0, 1218000], "range": [594, 428], "nice": false},
            "axis": {"orient": "right", "offset": -93, "values": [0, 250000, 500000, 750000, 1000000], "labelExpr": "format(datum.value / 1000000, '.2f')",
                     "title": ["Volumen", "10⁶"], "titleLineHeight": 20, "tickSize": 5, "labelPadding": 6, "titleAngle": 270, "titleBaseline": "top", "titlePadding": -15, "domainColor": "#a3a3a3", "grid": false, "zindex": 2}},
      "color": {"condition": {"test": "datum.c >= datum.o", "value": "#1e9a1e"}, "value": "#ff1616"}
    }
  }
]
}
]
}
